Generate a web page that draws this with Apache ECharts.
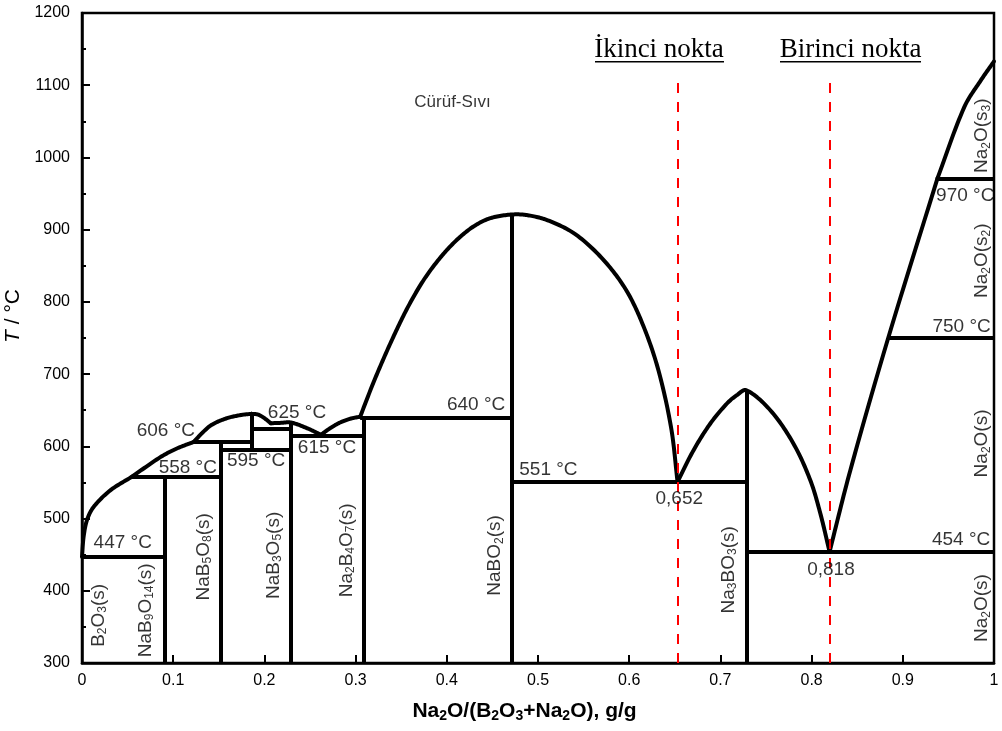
<!DOCTYPE html>
<html><head><meta charset="utf-8">
<script src="https://cdn.jsdelivr.net/npm/echarts@6/dist/echarts.min.js"></script>
<style>html,body{margin:0;padding:0;background:#fff}#c{width:1002px;height:731px}</style>
</head><body><div id="c"></div>
<script>
const xTickLabels = ['0','0.1','0.2','0.3','0.4','0.5','0.6','0.7','0.8','0.9','1'];
const yTickLabels = ['300','400','500','600','700','800','900','1000','1100','1200'];

// liquidus curve segments [x, T]
const liqA = [[0,447],[0.0018,475],[0.0055,498],[0.0127,516],[0.031,539],[0.0548,558]];
const liqB = [[0.0548,558],[0.0859,585],[0.104,597],[0.1224,606]];
const liqC = [[0.1224,606],[0.133,620],[0.1425,630],[0.159,639],[0.175,643.5],[0.186,645]];
const liqD = [[0.186,645],[0.193,644],[0.2,639],[0.207,632]];
const liqE = [[0.207,632],[0.218,632.5],[0.229,633],[0.247,625],[0.262,616]];
const liqF = [[0.262,616],[0.272,625],[0.283,633],[0.295,638.5],[0.305,641]];
const liqG = [[0.305,641],[0.3206,691.5],[0.339,745],[0.357,792],[0.375,831],[0.394,863],[0.412,887],[0.430,905],[0.448,916],[0.4715,921],[0.4887,920],[0.5106,913],[0.540,894.5],[0.569,862],[0.5946,820.6],[0.613,774.5],[0.631,710],[0.6458,627],[0.653,551]];
const liqH = [[0.653,551],[0.6706,594.7],[0.689,631.6],[0.7072,659.3],[0.718,670.8],[0.7284,677.7],[0.7547,650],[0.780,604],[0.7986,553],[0.8096,507],[0.8197,454]];
const liqI = [[0.8197,454],[0.8425,567],[0.884,750],[0.938,971]];
const liqJ = [[0.938,971],[0.9675,1070],[0.9857,1107],[1,1133]];
const liquidusSegments = [liqA, liqB, liqC, liqD, liqE, liqF, liqG, liqH, liqI, liqJ];

// isotherms [xStart, xEnd, T]
const isotherms = [[0,0.0903,447],[0.0548,0.1517,558],[0.1224,0.186,606],[0.1517,0.229,595],[0.186,0.229,625],[0.229,0.309,615],[0.305,0.4715,640],[0.4715,0.7284,551],[0.7284,1,454],[0.884,1,750],[0.938,1,970]];
// compound lines [x, Tbottom, Ttop]
const compounds = [[0.0903,300,558],[0.1517,300,606],[0.186,595,645],[0.229,300,633],[0.309,300,641],[0.4715,300,921],[0.7284,300,677.7]];
// red dashed markers [x, Tbottom, Ttop]
const markers = [[0.653,300,1105],[0.8197,300,1105]];

// labels [text, x, T]
const tempLabels = [['447 °C',0.0447,466],['558 °C',0.116,571],['606 °C',0.0919,622],['595 °C',0.1909,580],['625 °C',0.2357,646],['615 °C',0.2686,598],['640 °C',0.4321,657],['551 °C',0.5114,568],['0,652',0.6549,527],['0,818',0.8212,429],['454 °C',0.9639,470],['750 °C',0.9645,766],['970 °C',0.9685,947.5]];
const regionLabels = [['Cürüf-Sıvı',0.4063,1077]];
const phaseLabels = [['B_{2}O_{3}(s)',0.0182,366],['NaB_{9}O_{14}(s)',0.0694,373],['NaB_{5}O_{8}(s)',0.1333,447],['NaB_{3}O_{5}(s)',0.2101,449],['Na_{2}B_{4}O_{7}(s)',0.2898,456],['NaBO_{2}(s)',0.4530,449],['Na_{3}BO_{3}(s)',0.709,429],['Na_{2}O(s)',0.9868,604],['Na_{2}O(s)',0.9868,376],['Na_{2}O(s_{2})',0.9868,857],['Na_{2}O(s_{3})',0.9868,1030]];
const pointTitles = ['İkinci nokta','Birinci nokta'];

const SANS = "'Liberation Sans', Arial, sans-serif";
const SERIF = "'Liberation Serif', 'Times New Roman', serif";
function toRich(str, m, s){ return '{'+m+'|' + str.replace(/_\{([^}]*)\}/g, '}{'+s+'|$1}{'+m+'|') + '}'; }

// smooth rendering of pixel points (chord-length Hermite -> Bezier), sampled for drawing
function smoothPts(p){
  const n = p.length; if (n < 3) return p;
  const d = []; for (let i=0;i<n-1;i++) d.push(Math.hypot(p[i+1][0]-p[i][0], p[i+1][1]-p[i][1]) || 1e-6);
  const m = [];
  for (let i=0;i<n;i++){
    if (i===0) m.push([(p[1][0]-p[0][0])/d[0],(p[1][1]-p[0][1])/d[0]]);
    else if (i===n-1) m.push([(p[n-1][0]-p[n-2][0])/d[n-2],(p[n-1][1]-p[n-2][1])/d[n-2]]);
    else { const s=d[i-1]+d[i]; m.push([(p[i+1][0]-p[i-1][0])/s,(p[i+1][1]-p[i-1][1])/s]); }
  }
  const out=[p[0]];
  for (let i=0;i<n-1;i++){
    const a=p[i], b=p[i+1], L=d[i]/3;
    const c1=[a[0]+m[i][0]*L, a[1]+m[i][1]*L], c2=[b[0]-m[i+1][0]*L, b[1]-m[i+1][1]*L];
    const N=16;
    for (let k=1;k<=N;k++){ const t=k/N, u=1-t;
      out.push([u*u*u*a[0]+3*u*u*t*c1[0]+3*u*t*t*c2[0]+t*t*t*b[0], u*u*u*a[1]+3*u*u*t*c1[1]+3*u*t*t*c2[1]+t*t*t*b[1]]); }
  }
  return out;
}

const series = [];
liquidusSegments.forEach(seg => series.push({type:'custom', coordinateSystem:'cartesian2d', data:seg, encode:{x:0,y:1}, silent:true, z:3, clip:false,
  renderItem:(params, api) => {
    if (params.dataIndex !== 0) return null;
    const pts = seg.map(v => api.coord(v));
    return {type:'polyline', shape:{points:smoothPts(pts)}, style:{stroke:'#000', lineWidth:4, fill:null, lineJoin:'round', lineCap:'round'}};
  }}));
series.push({type:'lines', coordinateSystem:'cartesian2d', silent:true, z:3,
  lineStyle:{color:'#000', width:4, opacity:1},
  data: isotherms.map(d => ({coords:[[d[0],d[2]],[d[1],d[2]]]})).concat(compounds.map(d => ({coords:[[d[0],d[1]],[d[0],d[2]]]})))});
series.push({type:'lines', coordinateSystem:'cartesian2d', silent:true, z:6,
  lineStyle:{color:'#ff0000', width:2, type:[10,9], opacity:1},
  data: markers.map(d => ({coords:[[d[0],d[1]],[d[0],d[2]]]}))});
series.push({type:'scatter', symbolSize:0, silent:true, z:7,
  data: tempLabels.map(d => ({value:[d[1],d[2]], name:d[0]})),
  label:{show:true, position:'inside', formatter: p => p.name, color:'#000', fontFamily:SANS, fontSize:19}});
series.push({type:'scatter', symbolSize:0, silent:true, z:7,
  data: regionLabels.map(d => ({value:[d[1],d[2]], name:d[0]})),
  label:{show:true, position:'inside', formatter: p => p.name, color:'#000', fontFamily:SANS, fontSize:17}});
series.push({type:'scatter', symbolSize:0, silent:true, z:7,
  data: phaseLabels.map(d => ({value:[d[1],d[2]], name:d[0]})),
  label:{show:true, position:'inside', rotate:90, formatter: p => toRich(p.name,'m','s'),
    rich:{m:{fontFamily:SANS, fontSize:19, color:'#000'}, s:{fontFamily:SANS, fontSize:12, color:'#000', padding:[9,0,0,0]}}}});

const chart = echarts.init(document.getElementById('c'), null, {renderer:'canvas'});
chart.setOption({
  animation:false,
  backgroundColor:'#fff',
  grid:{left:82, right:8, top:13, bottom:68, containLabel:false, outerBoundsMode:'none', show:true, borderColor:'#000', borderWidth:2.5},
  xAxis:{type:'value', min:0, max:1, interval:0.1,
    axisLine:{show:true, onZero:false, lineStyle:{color:'#000', width:2.5}},
    axisTick:{show:true, inside:true, length:8, lineStyle:{color:'#000', width:2}},
    splitLine:{show:false},
    axisLabel:{color:'#000', fontFamily:SANS, fontSize:16, margin:10, formatter: v => xTickLabels[Math.round(v*10)]},
    name: toRich('Na_{2}O/(B_{2}O_{3}+Na_{2}O), g/g','b','s'), nameLocation:'middle', nameGap:36,
    nameTextStyle:{padding:[0,27,0,0], rich:{b:{fontFamily:SANS, fontWeight:'bold', fontSize:21, color:'#000'}, s:{fontFamily:SANS, fontWeight:'bold', fontSize:14, color:'#000', padding:[10,0,0,0]}}}
  },
  yAxis:{type:'value', min:300, max:1200, interval:100,
    axisLine:{show:true, lineStyle:{color:'#000', width:2.5}},
    axisTick:{show:true, inside:true, length:8, lineStyle:{color:'#000', width:2}},
    minorTick:{show:true, splitNumber:2, length:4, lineStyle:{color:'#000', width:2}},
    splitLine:{show:false},
    axisLabel:{color:'#000', fontFamily:SANS, fontSize:16, margin:12, formatter: v => yTickLabels[Math.round((v-300)/100)]},
    name:'{i|T}{n| / °C}', nameLocation:'middle', nameGap:52,
    nameTextStyle:{padding:[0,0,0,44], rich:{i:{fontFamily:SANS, fontStyle:'italic', fontSize:21, color:'#000'}, n:{fontFamily:SANS, fontSize:21, color:'#000'}}}
  },
  graphic:[
    {type:'text', x:659, y:50, style:{text:pointTitles[0], font:'27px '+SERIF, fill:'#000', align:'center', verticalAlign:'middle'}},
    {type:'rect', x:595, y:61, shape:{width:129, height:1.6}, style:{fill:'#000'}},
    {type:'text', x:850.5, y:50, style:{text:pointTitles[1], font:'27px '+SERIF, fill:'#000', align:'center', verticalAlign:'middle'}},
    {type:'rect', x:780, y:61, shape:{width:141, height:1.6}, style:{fill:'#000'}}
  ],
  series: series
});
</script></body></html>
